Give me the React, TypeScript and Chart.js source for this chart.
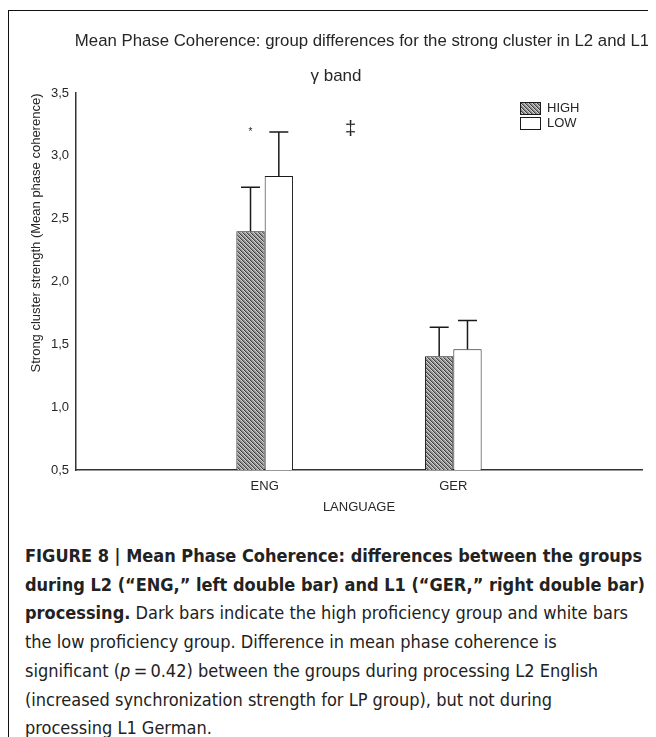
import React, { useEffect, useRef } from "react";
import { Chart, registerables } from "chart.js";

Chart.register(...registerables);

const categories = ["", "ENG", "GER", ""];
const highValues = [null, 2.4, 1.405, null];
const highErrors = [null, 0.35, 0.23, null];
const lowValues = [null, 2.84, 1.46, null];
const lowErrors = [null, 0.35, 0.23, null];
const seriesLabels = ["HIGH", "LOW"];
const yTicks = [0.5, 1.0, 1.5, 2.0, 2.5, 3.0, 3.5];
const chartTitle = "Mean Phase Coherence: group differences for the strong cluster in L2 and L1";
const chartSubtitle = "\u03b3 band";
const yAxisTitle = "Strong cluster strength (Mean phase coherence)";
const xAxisTitle = "LANGUAGE";
// significance marks: [category position, value, text]
const marks: [number, number, string][] = [
  [0.925, 3.19, "*"],
  [1.455, 3.21, "\u2021"],
];

const FONT = "'Liberation Sans', Arial, sans-serif";
const TEXT = "#262626";

function makeHatch(): CanvasPattern | string {
  const c = document.createElement("canvas");
  c.width = 4;
  c.height = 4;
  const ctx = c.getContext("2d");
  if (!ctx) return "#999";
  const img = ctx.createImageData(4, 4);
  for (let y = 0; y < 4; y++) {
    for (let x = 0; x < 4; x++) {
      const i = (y * 4 + x) * 4;
      const k = (x - y + 8) % 4;
      const chk = (x + y) % 2 === 0 ? -15 : 15;
      const base = k === 0 ? 80 : k === 1 ? 125 : k === 2 ? 170 : 195;
      const v = Math.max(0, Math.min(255, base + chk));
      img.data[i] = v;
      img.data[i + 1] = v;
      img.data[i + 2] = v;
      img.data[i + 3] = 255;
    }
  }
  ctx.putImageData(img, 0, 0);
  const main = document.createElement("canvas").getContext("2d");
  return (main && main.createPattern(c, "repeat")) || "#999";
}

const customPlugin = {
  id: "custom",
  afterDatasetsDraw(chart: any) {
    const ctx = chart.ctx;
    const errs = [highErrors, lowErrors];
    const vals = [highValues, lowValues];
    const ys = chart.scales.y;
    const xs = chart.scales.x;
    ctx.save();
    ctx.strokeStyle = "#1a1a1a";
    ctx.lineWidth = 1.5;
    chart.data.datasets.forEach((_ds: any, di: number) => {
      const meta = chart.getDatasetMeta(di);
      meta.data.forEach((el: any, i: number) => {
        const v = vals[di][i];
        const e = errs[di][i];
        if (v == null || e == null) return;
        const x = el.x;
        const y0 = ys.getPixelForValue(v);
        const y1 = ys.getPixelForValue(v + e);
        ctx.beginPath();
        ctx.moveTo(x, y0);
        ctx.lineTo(x, y1);
        ctx.moveTo(x - 9.5, y1);
        ctx.lineTo(x + 9.5, y1);
        ctx.stroke();
      });
    });
    // significance marks
    ctx.fillStyle = TEXT;
    ctx.textAlign = "center";
    ctx.textBaseline = "middle";
    marks.forEach(([pos, val, t]) => {
      ctx.font = t === "*" ? `10px ${FONT}` : `20px ${FONT}`;
      ctx.fillText(t, xs.getPixelForValue(pos), ys.getPixelForValue(val));
    });
    ctx.restore();
  },
  afterDraw(chart: any) {
    const ctx = chart.ctx;
    ctx.save();
    ctx.fillStyle = TEXT;
    ctx.textAlign = "center";
    ctx.textBaseline = "middle";
    ctx.font = `16.8px ${FONT}`;
    ctx.fillText(chartTitle, 353, 30);
    ctx.font = `17px ${FONT}`;
    ctx.fillText(chartSubtitle, 327, 65);
    // y axis title
    ctx.save();
    ctx.translate(27, 222);
    ctx.rotate(-Math.PI / 2);
    ctx.font = `13px ${FONT}`;
    ctx.fillText(yAxisTitle, 0, 0);
    ctx.restore();
    // legend
    const ds = chart.data.datasets;
    ds.forEach((d: any, i: number) => {
      const bx = 511;
      const by = 91 + i * 15;
      ctx.fillStyle = d.backgroundColor;
      ctx.fillRect(bx, by, 20, 12);
      ctx.strokeStyle = "#1a1a1a";
      ctx.lineWidth = 1;
      ctx.strokeRect(bx + 0.5, by + 0.5, 20, 12);
      ctx.fillStyle = TEXT;
      ctx.textAlign = "left";
      ctx.font = `13px ${FONT}`;
      ctx.fillText(d.label, 538, by + 6.5);
    });
    ctx.restore();
  },
};

export default function App() {
  const ref = useRef<HTMLCanvasElement | null>(null);
  useEffect(() => {
    if (!ref.current) return;
    const hatch = makeHatch();
    const chart = new Chart(ref.current, {
      type: "bar",
      data: {
        labels: categories,
        datasets: [
          {
            label: seriesLabels[0],
            data: highValues as any,
            backgroundColor: hatch as any,
            borderColor: "#1a1a1a",
            borderWidth: 1,
            barPercentage: 1,
            categoryPercentage: 0.3,
          },
          {
            label: seriesLabels[1],
            data: lowValues as any,
            backgroundColor: "#ffffff",
            borderColor: "#1a1a1a",
            borderWidth: 1,
            barPercentage: 1,
            categoryPercentage: 0.3,
          },
        ],
      },
      options: {
        animation: false,
        responsive: false,
        events: [],
        layout: { padding: { left: 0, right: 13, top: 82, bottom: 0 } },
        plugins: {
          legend: { display: false },
          title: { display: false },
          tooltip: { enabled: false },
        },
        scales: {
          x: {
            type: "category",
            offset: false,
            grid: { display: false, drawTicks: false },
            border: { display: true, color: "#333", width: 1.5 },
            ticks: { padding: 9, color: TEXT, font: { size: 13, family: FONT } },
            title: {
              display: true,
              text: xAxisTitle,
              color: TEXT,
              font: { size: 13, family: FONT },
              padding: { top: 0, bottom: 16 },
            },
            afterFit: (s: any) => {
              s.height = 61;
            },
          },
          y: {
            min: 0.5,
            max: 3.5,
            grid: { display: false, drawTicks: false },
            border: { display: true, color: "#333", width: 1.5 },
            afterBuildTicks: (s: any) => {
              s.ticks = yTicks.map((v) => ({ value: v }));
            },
            ticks: {
              padding: 7,
              color: TEXT,
              font: { size: 13, family: FONT },
              callback: (v: any) => Number(v).toFixed(1).replace(".", ","),
            },
            afterFit: (s: any) => {
              s.width = 67;
            },
          },
        },
      },
      plugins: [customPlugin],
    });
    return () => chart.destroy();
  }, []);

  const cap: React.CSSProperties = {
    position: "absolute",
    left: 16,
    whiteSpace: "nowrap",
    fontFamily: "'Liberation Sans Narrow', 'DejaVu Sans Condensed', 'Liberation Sans', Arial, sans-serif",
    fontSize: 18,
    color: "#222",
    lineHeight: "20px",
  };
  const lines: React.ReactNode[] = [
    <b>FIGURE 8 | Mean Phase Coherence: differences between the groups</b>,
    <b>during L2 (“ENG,” left double bar) and L1 (“GER,” right double bar)</b>,
    <>
      <b>processing.</b> Dark bars indicate the high proficiency group and white bars
    </>,
    <>the low proficiency group. Difference in mean phase coherence is</>,
    <>
      significant (<i>p</i>{"\u2009=\u20090.42"}) between the groups during processing L2 English
    </>,
    <>(increased synchronization strength for LP group), but not during</>,
    <>processing L1 German.</>,
  ];
  return (
    <div style={{ position: "relative", width: 656, height: 737 }}>
      <div
        style={{
          position: "absolute",
          left: 0,
          top: 2,
          width: 648,
          height: 735,
          borderLeft: "1.5px solid #111",
          borderTop: "1.5px solid #111",
          overflow: "hidden",
        }}
      >
        <canvas ref={ref} width={646} height={520} style={{ position: "absolute", left: 0, top: 0 }} />
        {lines.map((l, i) => (
          <div key={i} style={{ ...cap, top: 535 + i * 28.7 }}>
            {l}
          </div>
        ))}
      </div>
    </div>
  );
}
